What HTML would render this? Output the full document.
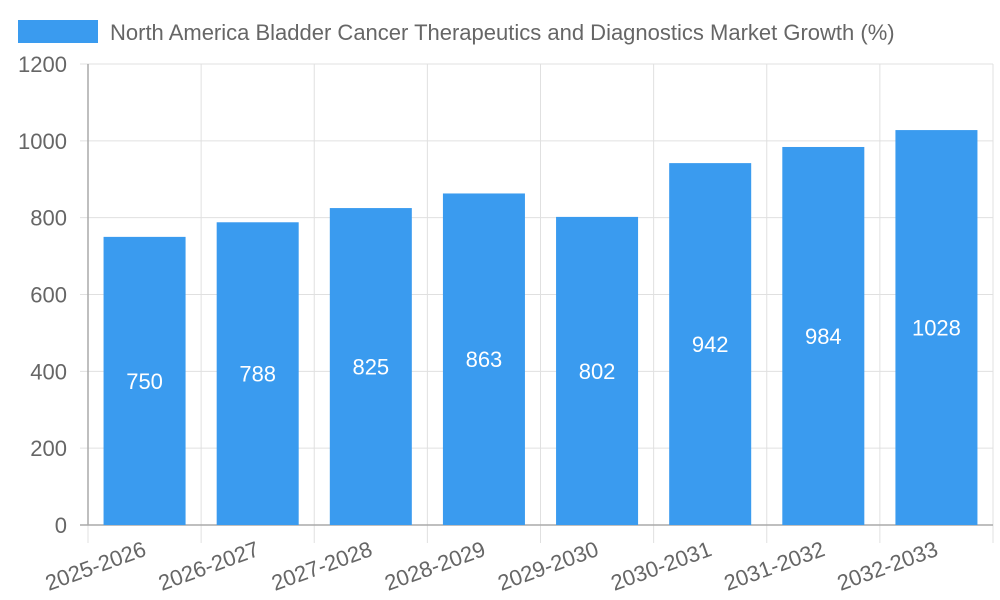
<!DOCTYPE html>
<html><head><meta charset="utf-8"><style>
html,body{margin:0;padding:0;background:#fff;}
svg{display:block;font-family:"Liberation Sans",sans-serif;}
</style></head><body>
<svg id="chart" width="1000" height="600"></svg>
<script>
const categories=["2025-2026","2026-2027","2027-2028","2028-2029","2029-2030","2030-2031","2031-2032","2032-2033"];
const values=[750,788,825,863,802,942,984,1028];
const yTicks=[0,200,400,600,800,1000,1200];
const seriesName="North America Bladder Cancer Therapeutics and Diagnostics Market Growth (%)";
const NS="http://www.w3.org/2000/svg";
const svg=document.getElementById('chart');
const L=88,R=993,T=64,B=525,yMax=1200;
const y=v=>B-(v/yMax)*(B-T);
const band=(R-L)/categories.length;
const x=i=>L+i*band;
function mk(tag,attrs,parent){const e=document.createElementNS(NS,tag);for(const k in attrs)e.setAttribute(k,attrs[k]);(parent||svg).appendChild(e);return e;}
// legend
const lg=mk('g',{});


mk('rect',{x:18,y:20,width:80,height:23,fill:'#3a9bef'},lg);
const lt=mk('text',{x:110,y:40,'font-size':22,fill:'#666'},lg);lt.textContent=seriesName;
// y grid + labels
yTicks.forEach(t=>{
 const g=mk('line',{x1:80,x2:R,y1:y(t),y2:y(t),stroke:'#e0e0e0','stroke-width':1});
 
 
 const tx=mk('text',{x:67,y:y(t)+8,'font-size':22,fill:'#666','text-anchor':'end'});
 
 
 tx.textContent=t;
});
// x grid
for(let i=0;i<=categories.length;i++){
 const g=mk('line',{x1:x(i),x2:x(i),y1:T,y2:B+18,stroke:'#e0e0e0','stroke-width':1});
 
 
}
// axes
const ya=mk('line',{x1:L,x2:L,y1:T,y2:B,stroke:'#aaa','stroke-width':1.5});


const xa=mk('line',{x1:80,x2:R,y1:B,y2:B,stroke:'#aaa','stroke-width':1.5});


// bars
const bw=band*0.725;
values.forEach((v,i)=>{
 const bx=x(i)+(band-bw)/2;
 const r=mk('rect',{x:bx,y:y(v),width:bw,height:B-y(v),fill:'#3a9bef'});
 
 
 const vl=mk('text',{x:bx+bw/2,y:(y(v)+B)/2+8,'font-size':22,fill:'#fff','text-anchor':'middle'});
 
 
 vl.textContent=v;
 const cx=x(i)+band/2+3;
 const xl=mk('text',{x:cx,y:B+30,'font-size':22,fill:'#666','text-anchor':'end',transform:`rotate(-20 ${cx} ${B+30})`});
 
 
 xl.textContent=categories[i];
});
</script>
</body></html>
